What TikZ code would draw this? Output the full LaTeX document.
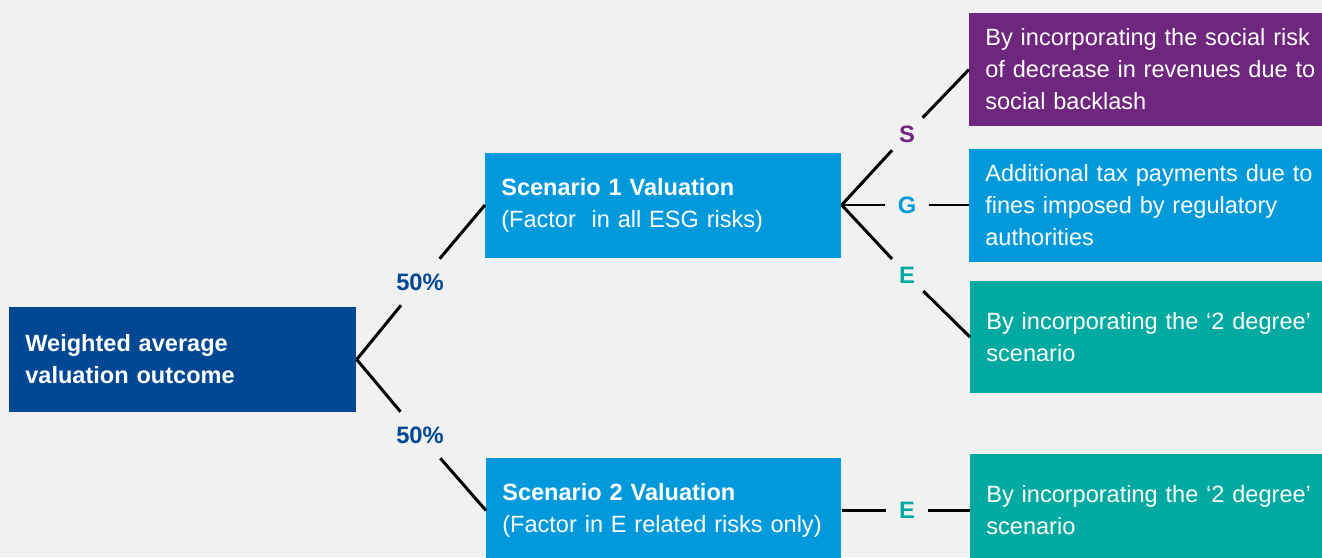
\documentclass[tikz,border=0pt]{standalone}
\usepackage{fontspec}
\setmainfont{Liberation Sans}
\definecolor{bgGrey}{RGB}{241,241,241}
\definecolor{darkBlue}{RGB}{0,72,148}
\definecolor{lightBlue}{RGB}{0,154,220}
\definecolor{kPurple}{RGB}{110,38,126}
\definecolor{kTeal}{RGB}{0,170,160}

\begin{document}
\begin{tikzpicture}[
    box/.style={fill=#1, text=white, align=left, anchor=west, inner xsep=0.32cm,
        minimum height=2.1cm, font=\fontsize{13.4}{18.2}\selectfont},
    pct/.style={fill=bgGrey, text=darkBlue, inner xsep=0.1cm, inner ysep=0.29cm,
        font=\bfseries\fontsize{13.5}{16}\selectfont},
    letter/.style={fill=bgGrey, text=#1, inner xsep=0.25cm, inner ysep=0.15cm,
        font=\bfseries\fontsize{13.5}{16}\selectfont},
    link/.style={line width=1.7pt}
  ]
  \fill[bgGrey] (0,0) rectangle (26.44,-11.14);
  \useasboundingbox (0,0) rectangle (26.44,-11.14);

  % left side
  \node[box=darkBlue, text width=6.3cm, font=\bfseries\fontsize{13.4}{18.2}\selectfont] (root) at (0.18,-7.19) {Weighted average\\valuation outcome};
  \node[box=lightBlue, text width=6.48cm] (sc1) at (9.70,-4.1) {{\bfseries Scenario 1 Valuation}\\(Factor~ in all ESG risks)};
  \node[box=lightBlue, text width=6.46cm] (sc2) at (9.72,-10.21) {{\bfseries Scenario 2 Valuation}\\(Factor in E related risks only)};

  % right side
  \node[box=kPurple, text width=6.9cm, minimum height=2.26cm] (soc) at (19.38,-1.39) {By incorporating the social risk\\of decrease in revenues due to\\social backlash};
  \node[box=lightBlue, text width=6.9cm, minimum height=2.26cm] (gov) at (19.38,-4.1) {Additional tax payments due to\\fines imposed by regulatory\\authorities};
  \node[box=kTeal, text width=6.9cm, minimum height=2.24cm] (env) at (19.40,-6.74) {By incorporating the ‘2 degree’\\scenario};
  \node[box=kTeal, text width=6.9cm, minimum height=2.26cm] (envb) at (19.40,-10.21) {By incorporating the ‘2 degree’\\scenario};

  % labels
  \node[pct] (p1) at (8.40,-5.64) {50\%};
  \node[pct] (p2) at (8.40,-8.70) {50\%};
  \node[letter=kPurple] (s) at (18.14,-2.68) {S};
  \node[letter=lightBlue] (g) at (18.14,-4.1) {G};
  \node[letter=kTeal] (e) at (18.14,-5.50) {E};
  \node[letter=kTeal] (e2) at (18.14,-10.21) {E};

  \foreach \a/\l/\b in {root/p1/sc1, root/p2/sc2, sc1/s/soc, sc1/g/gov, sc1/e/env, sc2/e2/envb}
    \draw[link] (\a.east) -- (\l) (\l) -- (\b.west);
\end{tikzpicture}
\end{document}
